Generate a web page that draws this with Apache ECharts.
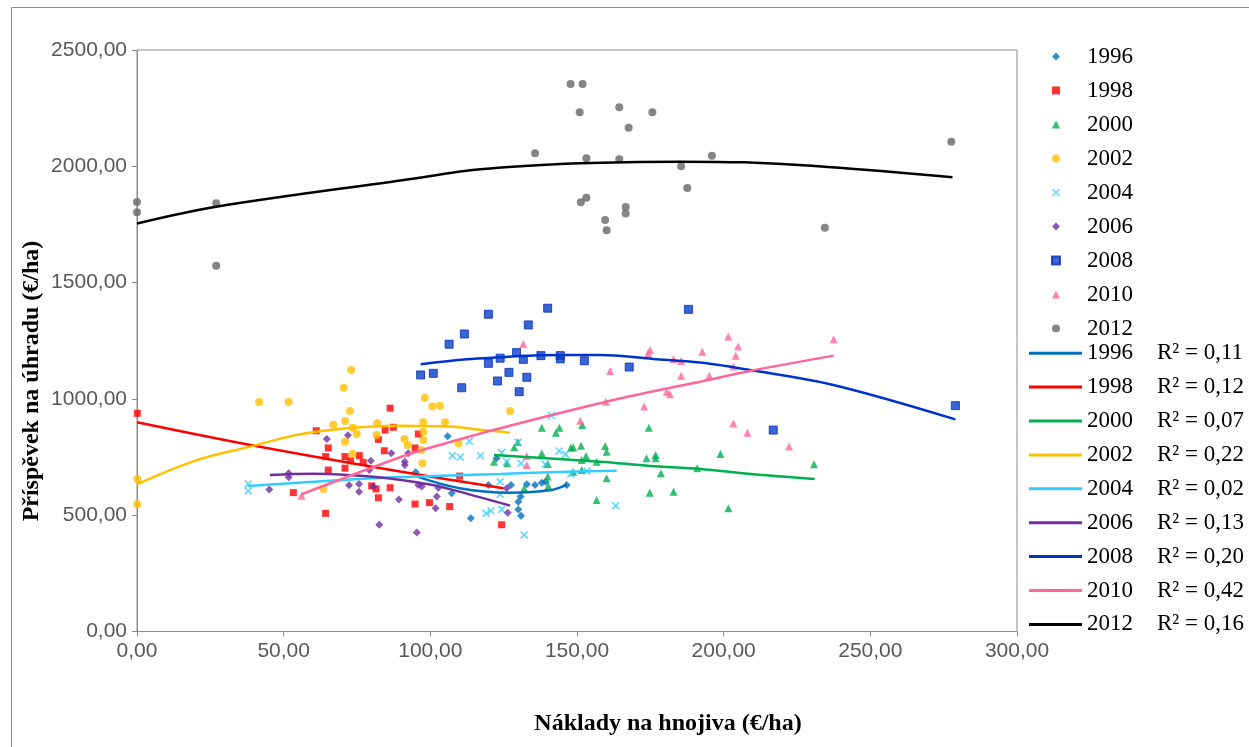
<!DOCTYPE html>
<html>
<head>
<meta charset="utf-8">
<script src="https://cdn.jsdelivr.net/npm/echarts@6/dist/echarts.min.js"></script>
<style>
  html, body { margin: 0; padding: 0; background: #ffffff; }
  #chart { width: 1249px; height: 747px; }
</style>
</head>
<body>
<div id="chart"></div>
<script>
// Fertiliser cost (€/ha) vs. contribution margin (€/ha) by year, with polynomial trends
const years = ['1996', '1998', '2000', '2002', '2004', '2006', '2008', '2010', '2012'];
const rSquared = ['0,11', '0,12', '0,07', '0,22', '0,02', '0,13', '0,20', '0,42', '0,16'];

const x1996 = [95, 105.9, 107.3, 113.8, 119.8, 122.6, 127.5, 130, 130, 130.8, 130.9, 132.9, 135.7, 138, 139.3, 146.5];
const y1996 = [685, 839, 594, 487, 630, 745, 630, 558, 525, 580, 498, 633, 630, 640, 644, 630];

const x1998 = [0.1, 53.3, 61.1, 64.3, 64.3, 65.2, 65.2, 70.9, 70.9, 72.8, 75.8, 77.1, 80, 81.5, 82.3, 82.3, 84.3, 84.6, 86.3, 86.3, 87.4, 94.8, 94.8, 95.9, 99.7, 106.6, 110, 124.3];
const y1998 = [938, 597, 863, 752, 508, 789, 694, 752, 702, 734, 756, 727, 626, 613, 826, 575, 777, 866, 960, 618, 878, 789, 548, 849, 554, 537, 668, 459];

const x2000 = [121.7, 126.2, 128.6, 129.8, 132, 138, 138, 140, 140, 140.2, 142.8, 144, 147.9, 148.7, 148.7, 151.4, 151.6, 151.6, 151.8, 153.1, 156.7, 156.7, 159.6, 160.1, 160.1, 173.7, 174.5, 174.8, 176.8, 176.8, 178.6, 182.9, 191, 198.9, 201.6, 230.8];
const y2000 = [730, 723, 792, 815, 616, 876, 766, 720, 666, 626, 855, 876, 790, 792, 687, 799, 737, 694, 888, 755, 730, 565, 798, 773, 659, 745, 876, 597, 759, 745, 680, 601, 702, 763, 530, 719];

const x2002 = [0.1, 0.1, 41.6, 51.7, 63.5, 66.9, 70.5, 70.9, 70.9, 72.6, 73, 73.5, 73.5, 74.9, 81.7, 81.9, 91.2, 92.3, 97, 97.3, 97.6, 97.6, 97.6, 98.1, 100.7, 103.3, 105, 109.6, 127.2];
const y2002 = [656, 547, 987, 987, 613, 889, 1048, 905, 816, 948, 1124, 876, 763, 849, 845, 895, 828, 802, 780, 723, 900, 859, 823, 1005, 967, 971, 900, 809, 948];

const x2004 = [37.9, 37.9, 107.5, 110.2, 113.3, 117.1, 119, 120.7, 123.8, 123.8, 124.3, 124.3, 126, 129.9, 130.9, 132, 139.2, 141.3, 143.9, 146.1, 147.9, 153.4, 163.2];
const y2004 = [634, 604, 756, 750, 818, 756, 508, 519, 644, 590, 769, 525, 730, 814, 723, 415, 719, 928, 776, 762, 677, 690, 541];

const x2006 = [45.1, 51.7, 51.7, 64.7, 71.9, 72.3, 75.7, 75.7, 79.2, 79.7, 80.6, 82.6, 86.7, 89.3, 91.3, 91.3, 92.5, 95.4, 95.9, 97.1, 101.8, 102.2, 102.7, 126, 126.4];
const y2006 = [611, 680, 663, 828, 844, 629, 634, 601, 694, 734, 623, 459, 766, 568, 730, 716, 766, 426, 630, 623, 530, 580, 618, 616, 511];

const x2008 = [96.7, 101, 106.4, 110.7, 111.6, 119.8, 119.8, 122.9, 123.8, 126.8, 129.4, 130.3, 131.7, 132.9, 133.4, 137.7, 140, 144.3, 144.3, 152.5, 167.8, 188, 216.9, 279];
const y2008 = [1103, 1110, 1235, 1048, 1279, 1364, 1153, 1077, 1175, 1114, 1199, 1031, 1170, 1093, 1318, 1186, 1390, 1186, 1172, 1164, 1137, 1385, 866, 971];

const x2010 = [56.1, 131.7, 132.9, 132.9, 151.1, 159.8, 161.3, 172.9, 174.3, 174.9, 180.6, 181.7, 182.9, 185.5, 185.5, 192.7, 195.1, 201.6, 203.3, 203.3, 204.1, 204.9, 208.1, 222.3, 237.5];
const y2010 = [584, 1236, 755, 716, 906, 988, 1120, 967, 1196, 1210, 1031, 1020, 1170, 1163, 1099, 1203, 1099, 1268, 1139, 894, 1185, 1225, 855, 795, 1256];

const x2012 = [0, 0, 27, 27, 135.7, 147.8, 150.9, 151.3, 151.9, 153.2, 153.2, 159.6, 160.1, 164.4, 164.4, 166.6, 166.6, 167.6, 175.7, 185.5, 187.6, 196, 234.5, 277.6];
const y2012 = [1847, 1802, 1841, 1572, 2056, 2354, 2232, 1845, 2354, 2035, 1865, 1769, 1725, 2254, 2030, 1825, 1797, 2166, 2232, 2000, 1907, 2045, 1736, 2106];

// Second-order polynomial trend curves, as [cost, margin] points along each curve
const t1996 = [[95, 668], [110, 616], [127, 597], [140.8, 607], [146.5, 630]];
const t1998 = [[0, 900], [39.6, 800], [89.7, 688], [124.9, 616]];
const t2000 = [[121.7, 759], [157.8, 730], [174.9, 712], [192, 699], [209, 677], [231, 656]];
const t2002 = [[0, 633], [20.4, 737], [39.6, 798], [54.3, 845], [71.5, 874], [89, 885], [106.7, 881], [118, 866], [127.2, 855]];
const t2004 = [[37.9, 626], [65.8, 648], [89.7, 664], [123.8, 677], [146.5, 687], [163.5, 691]];
const t2006 = [[45.3, 673], [60, 678], [82.9, 662], [99.9, 632], [106.7, 612], [127.2, 541]];
const t2008 = [[96.7, 1149], [112.4, 1170], [123.8, 1179], [137.4, 1188], [157.8, 1189], [176, 1172], [192, 1156], [209, 1124], [237.4, 1060], [279, 912]];
const t2010 = [[56.1, 590], [89.7, 749], [99.9, 790], [123.8, 874], [159.8, 988], [174.9, 1030], [192, 1074], [209, 1120], [237.5, 1186]];
const t2012 = [[0, 1754], [27, 1826], [91, 1941], [117, 1987], [151, 2013], [185, 2020], [207, 2017], [230, 2002], [278, 1953]];

const xTicks = [0, 50, 100, 150, 200, 250, 300];
const yTicks = [0, 500, 1000, 1500, 2000, 2500];

const xs = [x1996, x1998, x2000, x2002, x2004, x2006, x2008, x2010, x2012];
const ys = [y1996, y1998, y2000, y2002, y2004, y2006, y2008, y2010, y2012];
const trends = [t1996, t1998, t2000, t2002, t2004, t2006, t2008, t2010, t2012];

// Marker look per year
const XMARK = 'path://M0,1.4L1.4,0L5,3.6L8.6,0L10,1.4L6.4,5L10,8.6L8.6,10L5,6.4L1.4,10L0,8.6L3.6,5Z';
const markerColors = ['#0070C0', '#FF0000', '#00B050', '#FFC000', '#33CCFF', '#7030A0', '#0A3EC8', '#FF6699', '#666666'];
const lineColors   = ['#0070C0', '#FF0000', '#00B050', '#FFC000', '#33CCFF', '#7030A0', '#0033CC', '#FF6699', '#000000'];
const symbols = ['diamond', 'rect', 'triangle', 'circle', XMARK, 'diamond', 'rect', 'triangle', 'circle'];
const symbolSizes = [8, 7, 8, 8, 8, 8, 8, 8, 8];

const fmt = v => v.toFixed(2).replace('.', ',');

const series = [];
years.forEach((yr, i) => {
  series.push({
    name: yr,
    type: 'scatter',
    symbol: symbols[i],
    symbolSize: symbolSizes[i],
    itemStyle: i === 6
      ? { color: markerColors[i], borderColor: '#0030B8', borderWidth: 1 }
      : { color: markerColors[i] },
    data: xs[i].map((v, k) => [v, ys[i][k]]),
    z: 2,
    silent: true
  });
});
years.forEach((yr, i) => {
  series.push({
    name: 'trend ' + yr,
    type: 'line',
    symbol: 'none',
    smooth: 0.35,
    lineStyle: { color: lineColors[i], width: 2.5 },
    itemStyle: { color: lineColors[i] },
    data: trends[i],
    z: 3,
    silent: true
  });
});

const chart = echarts.init(document.getElementById('chart'), null, { renderer: 'canvas' });

chart.setOption({
  backgroundColor: '#ffffff',
  animation: false,
  grid: {
    left: 137, top: 50, right: 232, bottom: 115.5,
    show: true, borderColor: '#8c8c8c', borderWidth: 1
  },
  xAxis: {
    type: 'value', min: xTicks[0], max: xTicks[xTicks.length - 1], interval: 50,
    splitLine: { show: false },
    axisLine: { show: true, lineStyle: { color: '#8c8c8c', width: 1 } },
    axisTick: { show: true, length: 5, lineStyle: { color: '#8c8c8c' } },
    axisLabel: {
      margin: 9, color: '#595959', fontFamily: 'Liberation Sans', fontSize: 21,
      formatter: v => fmt(v)
    }
  },
  yAxis: {
    type: 'value', min: yTicks[0], max: yTicks[yTicks.length - 1], interval: 500,
    splitLine: { show: false },
    axisLine: { show: true, lineStyle: { color: '#8c8c8c', width: 1 } },
    axisTick: { show: true, length: 5, lineStyle: { color: '#8c8c8c' } },
    axisLabel: {
      margin: 10, color: '#595959', fontFamily: 'Liberation Sans', fontSize: 21,
      formatter: v => fmt(v)
    }
  },
  legend: [
    {
      data: years,
      orient: 'vertical',
      left: 1051, top: 45,
      padding: 0,
      itemWidth: 8, itemHeight: 8,
      itemGap: 11,
      selectedMode: false,
      textStyle: {
        fontFamily: 'Liberation Serif', fontSize: 23, color: '#000',
        lineHeight: 22, padding: [0, 0, 0, 22]
      }
    },
    {
      data: years.map(y => 'trend ' + y),
      orient: 'vertical',
      left: 1029, top: 341.7,
      padding: 0,
      icon: 'rect',
      itemWidth: 53, itemHeight: 3,
      itemGap: 10.9,
      selectedMode: false,
      formatter: name => {
        const i = years.indexOf(name.replace('trend ', ''));
        return '{y|' + years[i] + '}{r|R² = ' + rSquared[i] + '}';
      },
      textStyle: {
        fontFamily: 'Liberation Serif', fontSize: 23, color: '#000', lineHeight: 22,
        rich: {
          y: { width: 70, fontFamily: 'Liberation Serif', fontSize: 23, lineHeight: 22, color: '#000' },
          r: { fontFamily: 'Liberation Serif', fontSize: 23, lineHeight: 22, color: '#000' }
        }
      }
    }
  ],
  graphic: [
    {
      type: 'rect', silent: true,
      shape: { x: 11.5, y: 7.5, width: 1300, height: 800 },
      style: { fill: 'none', stroke: '#8c8c8c', lineWidth: 1 },
      z: -1
    },
    {
      type: 'text', silent: true,
      x: 32, y: 381, rotation: Math.PI / 2,
      style: {
        text: 'Příspěvek na úhradu (€/ha)',
        fontFamily: 'Liberation Serif', fontWeight: 'bold', fontSize: 24,
        fill: '#000', align: 'center', verticalAlign: 'middle'
      }
    },
    {
      type: 'text', silent: true,
      x: 668, y: 724,
      style: {
        text: 'Náklady na hnojiva (€/ha)',
        fontFamily: 'Liberation Serif', fontWeight: 'bold', fontSize: 24,
        fill: '#000', align: 'center', verticalAlign: 'middle'
      }
    }
  ],
  series: series
});
</script>
</body>
</html>
